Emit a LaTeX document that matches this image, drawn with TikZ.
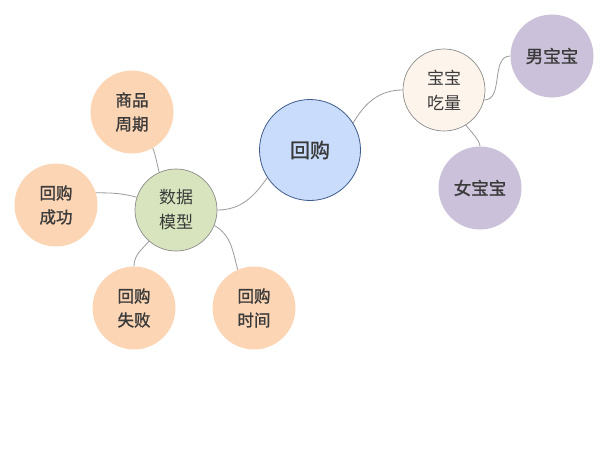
\documentclass[tikz,border=0pt]{standalone}
\usepackage{fontspec}
\newfontfamily\cjk{Noto Sans CJK SC}
\newfontfamily\cjkb[FakeBold=1.2]{Noto Sans CJK SC}
\definecolor{txt}{HTML}{3A3A3A}
\definecolor{lnk}{HTML}{9A9A9A}
\definecolor{rootfill}{HTML}{C9DCFB}
\definecolor{rootdraw}{HTML}{3D5A8A}
\definecolor{greenfill}{HTML}{D7E4BD}
\definecolor{creamfill}{HTML}{FDF4EC}
\definecolor{orangefill}{HTML}{FCD5B5}
\definecolor{purplefill}{HTML}{CCC1DA}
\definecolor{subdraw}{HTML}{8C8C8C}
\tikzset{
  bubble/.style={circle, inner sep=0pt, text=txt, align=center},
  rootnode/.style={bubble, minimum size=101pt, fill=rootfill, draw=rootdraw, line width=0.8pt, font=\cjkb\fontsize{20}{26}\selectfont},
  subnode/.style={bubble, minimum size=82pt, draw=subdraw, line width=0.7pt, font=\cjk\fontsize{17}{25}\selectfont},
  orangenode/.style={bubble, minimum size=83pt, fill=orangefill, font=\cjkb\fontsize{16.5}{24}\selectfont},
  purplenode/.style={bubble, minimum size=83pt, fill=purplefill, font=\cjkb\fontsize{17.5}{24}\selectfont},
  link/.style={draw=lnk, line width=0.8pt}
}
\begin{document}
\begin{tikzpicture}[x=1pt,y=1pt]
\useasboundingbox (0,0) rectangle (609,-463);
\node[rootnode] (hg) at (310,-150) {回购};
\node[subnode, fill=creamfill] (bb) at (444,-90) {宝宝\\吃量};
\node[purplenode] (nan) at (552,-56) {男宝宝};
\node[purplenode] (nv) at (480,-188) {女宝宝};
\node[subnode, fill=greenfill] (sj) at (176,-210) {数据\\模型};
\node[orangenode] (sp) at (132,-112) {商品\\周期};
\node[orangenode] (cg) at (56,-205) {回购\\成功};
\node[orangenode] (sb) at (134,-308) {回购\\失败};
\node[orangenode] (sj2) at (254,-308) {回购\\时间};

\draw[link] (sj.0) to[out=0,in=-125] (hg.-147);
\draw[link] (hg.32) to[out=60,in=180] (bb.180);
\draw[link] (bb.-14) to[out=0,in=180] (nan.180);
\draw[link] (bb.-58) to[out=-55,in=90,looseness=0.6] (nv.90);
\draw[link] (sj.114) to[out=105,in=-70] (sp.-60);
\draw[link] (sj.162) to[out=165,in=0] (cg.17);
\draw[link] (sj.-131) to[out=-130,in=90] (sb.90);
\draw[link] (sj.-22) to[out=-30,in=105] (sj2.113);
\end{tikzpicture}
\end{document}
